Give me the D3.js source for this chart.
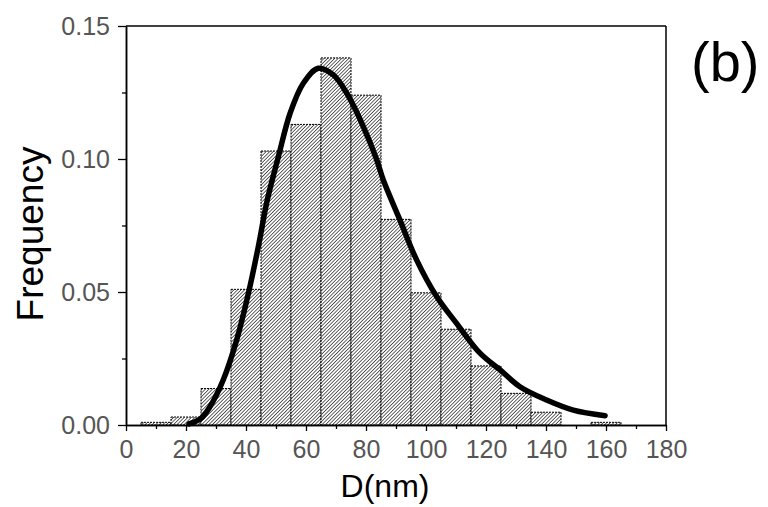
<!DOCTYPE html>
<html>
<head>
<meta charset="utf-8">
<script src="https://cdn.jsdelivr.net/npm/d3@7"></script>
<style>
  body { margin: 0; background: #fff; }
  svg { display: block; }
</style>
</head>
<body>
<div id="chart"></div>
<script>
// histogram bins (left edge, nm) and their frequency
const binStarts = [5, 15, 25, 35, 45, 55, 65, 75, 85, 95, 105, 115, 125, 135, 145, 155];
const binFreq = [0.001, 0.003, 0.0137, 0.051, 0.103, 0.113, 0.138, 0.124, 0.0773, 0.0497, 0.036, 0.0222, 0.0119, 0.0048, 0, 0.001];
const binWidth = 10;

// fitted curve, points
const fitX = [21, 25, 28, 32.4, 36.9, 40.8, 44.1, 47.1, 50.8, 54.7, 59.1, 64.1, 69.1, 73.6, 79.1, 83.6, 85.8, 91.3, 96.9, 103.6, 110.2, 118, 124.7, 131.3, 140.2, 149.1, 159.7];
const fitY = [0.0004, 0.0025, 0.0069, 0.0169, 0.032, 0.0495, 0.067, 0.0846, 0.1009, 0.1172, 0.1285, 0.1341, 0.1316, 0.1247, 0.1122, 0.0996, 0.092, 0.0771, 0.062, 0.0482, 0.0382, 0.027, 0.0207, 0.0144, 0.0094, 0.0056, 0.0035];

const xMajor = [0, 20, 40, 60, 80, 100, 120, 140, 160, 180];
const xMinor = [10, 30, 50, 70, 90, 110, 130, 150, 170];
const yMajor = [0, 0.05, 0.1, 0.15];
const yMinor = [0.025, 0.075, 0.125];

const width = 768, height = 507;
const plotLeft = 126, plotRight = 666, plotTop = 26, plotBottom = 425;
const FONT = "'Liberation Sans', Arial, sans-serif";

const svg = d3.select("#chart").append("svg")
  .attr("width", width)
  .attr("height", height);

const x = d3.scaleLinear().domain([0, 180]).range([plotLeft, plotRight]);
const y = d3.scaleLinear().domain([0, 0.15]).range([plotBottom, plotTop]);

// hatch pattern (dense "/" stripes)
const defs = svg.append("defs");
const pat = defs.append("pattern")
  .attr("id", "hatch")
  .attr("patternUnits", "userSpaceOnUse")
  .attr("width", 2.5)
  .attr("height", 2.5)
  .attr("patternTransform", "rotate(45)");
pat.append("rect").attr("width", 2.5).attr("height", 2.5).attr("fill", "#fff");
pat.append("line")
  .attr("x1", 0).attr("y1", 0).attr("x2", 0).attr("y2", 2.5)
  .attr("stroke", "#111").attr("stroke-width", 1.3);

// bars
svg.append("g")
  .selectAll("rect")
  .data(binStarts.map((s, i) => ({ s, f: binFreq[i] })).filter(d => d.f > 0))
  .join("rect")
  .attr("x", d => x(d.s))
  .attr("width", d => x(d.s + binWidth) - x(d.s))
  .attr("y", d => y(d.f))
  .attr("height", d => y(0) - y(d.f))
  .attr("fill", "url(#hatch)")
  .attr("stroke", "#000")
  .attr("stroke-width", 1)
  .attr("stroke-dasharray", "2,1");

// fit curve
const line = d3.line()
  .x(d => x(d[0]))
  .y(d => y(d[1]))
  .curve(d3.curveCatmullRom);

svg.append("path")
  .datum(fitX.map((v, i) => [v, fitY[i]]))
  .attr("d", line)
  .attr("fill", "none")
  .attr("stroke", "#000")
  .attr("stroke-width", 5.5)
  .attr("stroke-linecap", "round");

// frame
svg.append("line")
  .attr("x1", plotLeft).attr("x2", plotRight).attr("y1", plotTop).attr("y2", plotTop)
  .attr("stroke", "#000").attr("stroke-width", 1.5);
svg.append("line")
  .attr("x1", plotRight).attr("x2", plotRight).attr("y1", plotTop).attr("y2", plotBottom)
  .attr("stroke", "#000").attr("stroke-width", 1.5);

// axes
function styleAxis(g) {
  g.selectAll(".domain").attr("stroke", "#000").attr("stroke-width", 1.5);
  g.selectAll(".tick line").attr("stroke", "#000").attr("stroke-width", 1.3);
  g.selectAll(".tick text")
    .attr("fill", "#555")
    .attr("font-family", FONT)
    .attr("font-size", "25px");
}

svg.append("g")
  .attr("transform", `translate(0,${plotBottom})`)
  .call(d3.axisBottom(x).tickValues(xMajor).tickSize(6).tickSizeOuter(0).tickPadding(9))
  .call(styleAxis);

svg.append("g")
  .attr("transform", `translate(0,${plotBottom})`)
  .call(d3.axisBottom(x).tickValues(xMinor).tickSize(4).tickSizeOuter(0).tickFormat(""))
  .call(styleAxis);

svg.append("g")
  .attr("transform", `translate(${plotLeft},0)`)
  .call(d3.axisLeft(y).tickValues(yMajor).tickSize(8).tickSizeOuter(0).tickPadding(8).tickFormat(d3.format(".2f")))
  .call(styleAxis);

svg.append("g")
  .attr("transform", `translate(${plotLeft},0)`)
  .call(d3.axisLeft(y).tickValues(yMinor).tickSize(4).tickSizeOuter(0).tickFormat(""))
  .call(styleAxis);

// titles
svg.append("text")
  .attr("x", 385)
  .attr("y", 497)
  .attr("text-anchor", "middle")
  .attr("font-family", FONT)
  .attr("font-size", "32px")
  .attr("fill", "#000")
  .text("D(nm)");

svg.append("text")
  .attr("transform", "translate(43,234) rotate(-90)")
  .attr("text-anchor", "middle")
  .attr("font-family", FONT)
  .attr("font-size", "37px")
  .attr("fill", "#000")
  .text("Frequency");

svg.append("text")
  .attr("x", 691)
  .attr("y", 81)
  .attr("font-family", FONT)
  .attr("font-size", "56px")
  .attr("fill", "#000")
  .text("(b)");
</script>
</body>
</html>
